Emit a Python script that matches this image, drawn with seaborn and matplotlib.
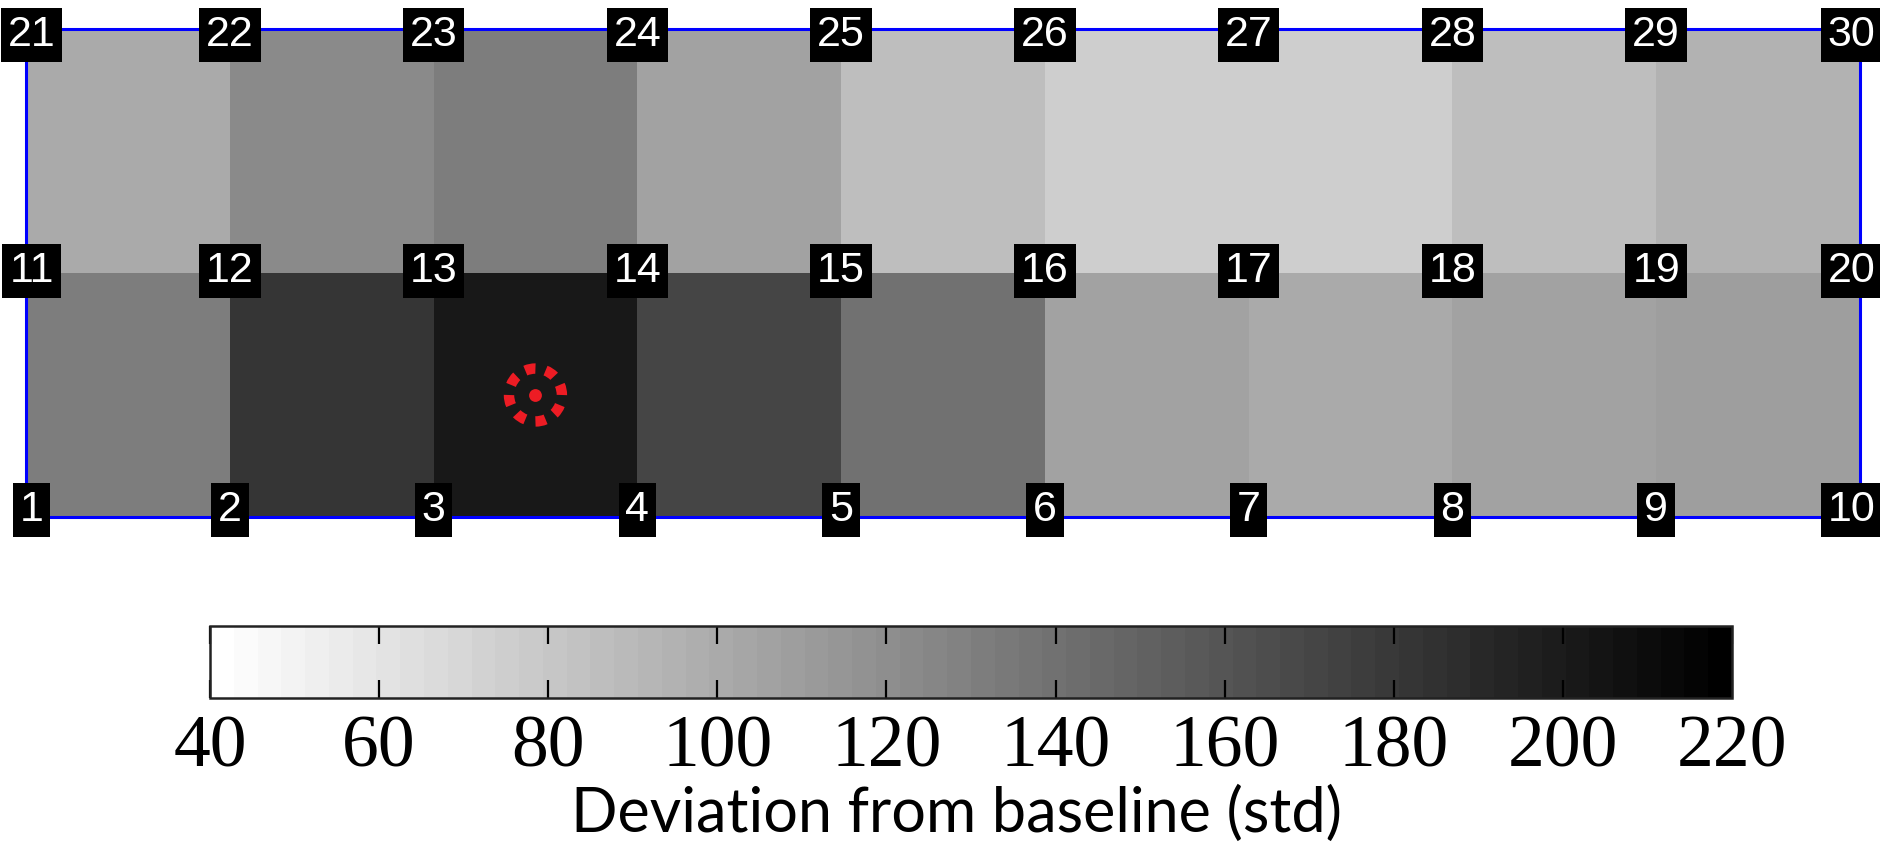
import numpy as np
import pandas as pd
import matplotlib
matplotlib.use('Agg')
import matplotlib.pyplot as plt
import seaborn as sns

# cell values (std), top row = cells between nodes 21..30, bottom row = nodes 1..10
top_row = [101, 123, 130, 106, 85, 74, 74, 85, 96]
bottom_row = [131, 181, 202, 171, 140, 105, 100, 106, 109]

top_nodes = [21, 22, 23, 24, 25, 26, 27, 28, 29, 30]
mid_nodes = [11, 12, 13, 14, 15, 16, 17, 18, 19, 20]
bottom_nodes = [1, 2, 3, 4, 5, 6, 7, 8, 9, 10]

# cell holding the red marker (column, row)
marker_col, marker_row = 2, 1

cbar_ticks = [40, 60, 80, 100, 120, 140, 160, 180, 200, 220]
vmin, vmax = 40, 220
cbar_label = 'Deviation from baseline (std)'

W, H = 1881, 843
fig = plt.figure(figsize=(W / 100, H / 100), dpi=100)

# main grid
ax = fig.add_axes([26 / W, 1 - 517 / H, 1834 / W, 488 / H])
cmap = plt.get_cmap('gray_r', 64)
grid = pd.DataFrame([top_row, bottom_row])
sns.heatmap(grid, ax=ax, cmap=cmap, vmin=vmin, vmax=vmax, cbar=False,
            xticklabels=False, yticklabels=False)

for sp in ax.spines.values():
    sp.set_visible(True)
    sp.set_color('#0000FF')
    sp.set_linewidth(2.2)

# node labels
row_dy = [-4.5, 1.5, 5]
for r, nodes in enumerate([top_nodes, mid_nodes, bottom_nodes]):
    for c, n in enumerate(nodes):
        dx = 4 if c == 0 else (-6 if c == len(nodes) - 1 else 0)
        ax.annotate(str(n), xy=(c, r), xytext=(dx, row_dy[r]),
                    textcoords='offset points', ha='center', va='center',
                    color='white', fontsize=31, family='Liberation Sans',
                    bbox=dict(boxstyle='square,pad=0.16', fc='black', ec='none'),
                    annotation_clip=False, zorder=5)

# red dotted marker (8 dots round a centre dot)
mx, my = marker_col + 0.5, marker_row + 0.5
ax.scatter([mx], [my], s=1450, facecolors='none', edgecolors='#ED1C24',
           linewidths=7.5, linestyles=(0, (1, 0.994)), zorder=4)
ax.scatter([mx], [my], s=85, color='#ED1C24', marker='o', linewidths=0, zorder=4)

# colorbar
cx0, cx1 = 210, 1732
cax = fig.add_axes([cx0 / W, 1 - 698 / H, (cx1 - cx0) / W, 72 / H])
cb = fig.colorbar(ax.collections[0], cax=cax, orientation='horizontal', ticks=cbar_ticks)
cb.outline.set_linewidth(1.8)
cb.outline.set_edgecolor('#222222')
cax.xaxis.set_ticks_position('both')
cax.tick_params(axis='x', direction='in', length=13, width=1.6, pad=12, labelsize=53)
for t in cax.get_xticklabels():
    t.set_family('Liberation Serif')
cb.set_label(cbar_label, fontsize=44, family='Lato')
cax.xaxis.set_label_coords((957 - cx0) / (cx1 - cx0), -1.22)

fig.savefig('out.png', dpi=100)
